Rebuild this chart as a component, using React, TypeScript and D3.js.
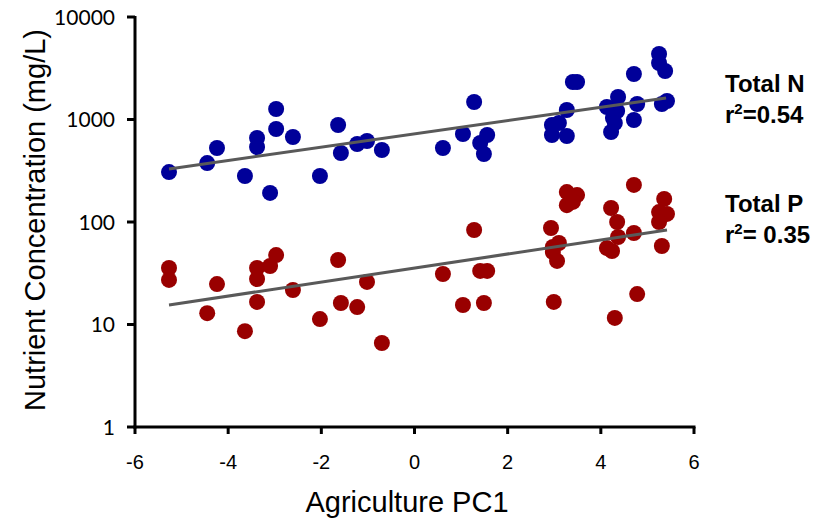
import React from "react";
import * as d3 from "d3";

// Agriculture PC1 score of each site
const nX = [-5.27, -4.45, -4.24, -3.64, -3.38, -3.38, -3.1, -2.97, -2.97, -2.61, -2.03, -1.64, -1.58, -1.23, -1.02, -0.7,
  0.61, 1.04, 1.28, 1.41, 1.56, 1.49, 2.95, 3.1, 2.95, 3.27, 3.27, 3.4, 3.49, 4.13, 4.37, 4.35, 4.26, 4.3, 4.22,
  4.78, 4.71, 4.71, 5.25, 5.25, 5.38, 5.31, 5.42];
const nY = [307, 376, 527, 281, 660, 539, 192, 1266, 808, 675, 281, 884, 471, 577, 617, 504,
  527, 722, 1482, 590, 706, 461, 884, 925, 706, 690, 1238, 2322, 2322, 1324, 1658, 1210, 1034, 925, 755,
  1416, 989, 2778, 4355, 3558, 2972, 1416, 1515];

const pX = [-5.27, -5.27, -4.24, -4.45, -3.64, -3.38, -3.38, -3.38, -3.1, -2.97, -2.61, -2.03, -1.64, -1.58, -1.23, -1.02, -0.7,
  0.61, 1.04, 1.28, 1.41, 1.56, 1.49, 2.93, 2.99, 2.97, 3.1, 2.97, 3.06, 3.27, 3.49, 3.27, 3.4,
  4.22, 4.35, 4.37, 4.13, 4.24, 4.3, 4.71, 4.71, 4.78, 5.36, 5.25, 5.42, 5.25, 5.31];
const pY = [35.6, 27.2, 24.8, 12.9, 8.6, 35.6, 27.8, 16.6, 37.2, 47.6, 21.7, 11.3, 42.6, 16.2, 14.8, 26.0, 6.6,
  31.1, 15.5, 83.6, 33.3, 33.3, 16.2, 87.4, 16.6, 57.0, 62.4, 51.0, 41.7, 196, 183, 146, 157,
  137, 100, 71.4, 55.7, 52.1, 11.6, 230, 78.1, 19.8, 168, 125, 120, 100, 58.3];

// fitted trend lines: [x, y] at both ends
const nFit = [[-5.27, 329], [5.4, 1622]];
const pFit = [[-5.27, 15.5], [5.42, 83.6]];

const xTicks = [-6, -4, -2, 0, 2, 4, 6];
const yTicks = [1, 10, 100, 1000, 10000];

const width = 814;
const height = 519;

export default function App() {
  const x = d3.scaleLinear().domain([-6, 6]).range([135, 694]);
  const y = d3.scaleLog().domain([1, 10000]).range([427, 17]);
  const line = d3.line<number[]>().x(d => x(d[0])).y(d => y(d[1]));

  const nPts = nX.map((v, i) => [v, nY[i]]);
  const pPts = pX.map((v, i) => [v, pY[i]]);

  return (
    <svg width={width} height={height} style={{ position: "absolute", left: 0, top: 0, background: "#fff" }}>
      {/* points */}
      {nPts.map((d, i) => (
        <circle key={"n" + i} cx={x(d[0])} cy={y(d[1])} r={8} fill="#000099" />
      ))}
      {pPts.map((d, i) => (
        <circle key={"p" + i} cx={x(d[0])} cy={y(d[1])} r={8} fill="#990000" />
      ))}
      <path d={line(nFit) || ""} stroke="#595959" strokeWidth={3} fill="none" />
      <path d={line(pFit) || ""} stroke="#595959" strokeWidth={3} fill="none" />

      {/* y axis */}
      <line x1={x(-6)} x2={x(-6)} y1={y(1) + 1.5} y2={y(10000) - 1} stroke="#000" strokeWidth={3} />
      {yTicks.map(t => (
        <g key={t}>
          <line x1={x(-6) - 8} x2={x(-6)} y1={y(t)} y2={y(t)} stroke="#000" strokeWidth={3} />
          <text x={115} y={y(t) + 7.5} textAnchor="end" fontFamily="Lato" fontSize={21} fill="#000">{t}</text>
        </g>
      ))}
      {/* x axis */}
      <line x1={x(-6) - 1.5} x2={x(6) + 1.5} y1={y(1)} y2={y(1)} stroke="#000" strokeWidth={3} />
      {xTicks.map(t => (
        <g key={t}>
          <line x1={x(t)} x2={x(t)} y1={y(1)} y2={y(1) + 7} stroke="#000" strokeWidth={3} />
          <text x={x(t)} y={469} textAnchor="middle" fontFamily="Liberation Sans, Arial" fontSize={20} fill="#000">{t}</text>
        </g>
      ))}

      <text x={407} y={512} textAnchor="middle" fontFamily="Liberation Sans, Arial" fontSize={29} fill="#000">Agriculture PC1</text>
      <text transform="translate(45,220) rotate(-90)" textAnchor="middle" fontFamily="Liberation Sans, Arial" fontSize={29} fill="#000">
        Nutrient Concentration (mg/L)
      </text>

      {/* labels */}
      <g fontFamily="Liberation Sans, Arial" fontWeight="bold" fontSize={24} fill="#000">
        <text x={725} y={92}>Total N</text>
        <text x={725} y={123}>r<tspan fontSize={15} dy={-9}>2</tspan><tspan dy={9}>=0.54</tspan></text>
        <text x={725} y={212}>Total P</text>
        <text x={725} y={243}>r<tspan fontSize={15} dy={-9}>2</tspan><tspan dy={9}>= 0.35</tspan></text>
      </g>
    </svg>
  );
}
